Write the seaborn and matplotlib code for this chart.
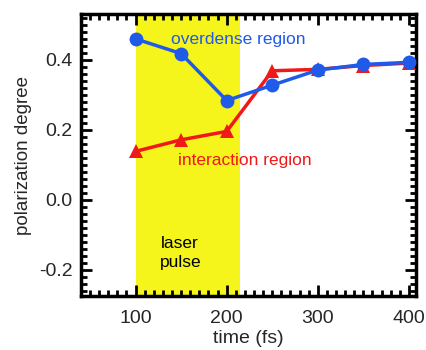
import matplotlib
matplotlib.use("Agg")
import matplotlib.pyplot as plt
import seaborn as sns
import pandas as pd
from matplotlib.ticker import MultipleLocator

time_fs = [100, 150, 200, 250, 300, 350, 400]
overdense = [0.459, 0.417, 0.283, 0.327, 0.370, 0.386, 0.392]
interaction = [0.138, 0.171, 0.195, 0.368, 0.372, 0.383, 0.390]
x_ticks = [100, 200, 300, 400]
y_ticks = [-0.2, 0.0, 0.2, 0.4]
pulse_span = [100, 215]

sns.set_style("ticks")
plt.rcParams['font.family'] = ['Liberation Sans', 'DejaVu Sans']

fig = plt.figure(figsize=(4.26, 3.5), dpi=100)
ax = fig.add_axes([0.19, 0.154, 0.787, 0.806])

ax.axvspan(pulse_span[0], pulse_span[1], color='#f5f51c', zorder=0, lw=0)

df = pd.DataFrame({'time': time_fs, 'over': overdense, 'inter': interaction})
sns.lineplot(data=df, x='time', y='inter', ax=ax, color='#f01818', marker='^',
             markersize=10, markeredgewidth=0, linewidth=2.5, zorder=3)
sns.lineplot(data=df, x='time', y='over', ax=ax, color='#1f5ae8', marker='o',
             markersize=10, markeredgewidth=0, linewidth=2.5, zorder=4)

ax.set_xlim(40, 408)
ax.set_ylim(-0.275, 0.53)
ax.set_xticks(x_ticks)
ax.set_yticks(y_ticks)
ax.set_yticklabels([f"{v:.1f}" for v in y_ticks])
ax.xaxis.set_minor_locator(MultipleLocator(10))
ax.yaxis.set_minor_locator(MultipleLocator(0.02))
ax.tick_params(which='both', direction='in', top=True, right=True, width=2, color='black', labelsize=14)
ax.tick_params(which='major', length=8)
ax.tick_params(axis='x', which='major', pad=10)
ax.tick_params(axis='y', which='major', pad=6)
ax.tick_params(which='minor', length=4)
for s in ax.spines.values():
    s.set_linewidth(2.5)
    s.set_color('black')

ax.set_xlabel('time (fs)', fontsize=14, labelpad=2)
ax.set_ylabel('polarization degree', fontsize=13.5, labelpad=5)

ax.text(139, 0.457, 'overdense region', color='#1f5ae8', fontsize=12.5, va='center', ha='left')
ax.text(147, 0.111, 'interaction region', color='#f01818', fontsize=12.5, va='center', ha='left')
ax.text(149, -0.152, 'laser\npulse', color='black', fontsize=12.5, va='center', ha='center', linespacing=1.3)

fig.savefig('out.png', dpi=100)
